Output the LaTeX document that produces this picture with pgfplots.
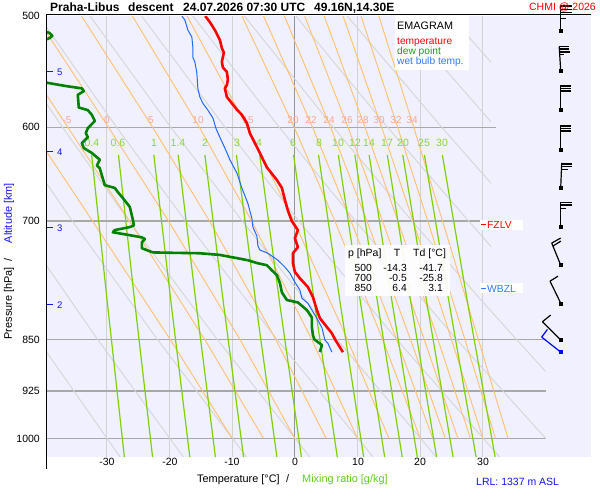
\documentclass[border=0pt]{standalone}
\usepackage{fontspec}
\setmainfont{Liberation Sans}
\usepackage{pgfplots}
\pgfplotsset{compat=1.18}
\definecolor{bgc}{RGB}{240,240,255}
\definecolor{tcol}{RGB}{255,0,0}
\definecolor{dcol}{RGB}{0,130,0}
\definecolor{wcol}{RGB}{30,105,250}
\definecolor{wtxt}{RGB}{50,120,255}
\definecolor{dtxt}{RGB}{30,150,30}
\definecolor{maw}{RGB}{255,192,115}
\definecolor{mal}{RGB}{255,165,140}
\definecolor{mrw}{RGB}{125,210,0}
\definecolor{mrl}{RGB}{140,215,50}
\definecolor{mrx}{RGB}{100,205,30}
\definecolor{dry}{RGB}{214,214,214}
\definecolor{iso}{RGB}{210,210,210}
\definecolor{isoz}{RGB}{150,150,150}
\definecolor{isob}{RGB}{168,168,168}
\definecolor{altb}{RGB}{20,20,235}
\newcommand{\fs}[1]{\fontsize{#1}{#1}\selectfont}
\begin{document}
\begin{tikzpicture}[x=1pt,y=1pt]
\path[use as bounding box] (0,0) rectangle (600,500);
\fill[white] (0,0) rectangle (600,500);
\fill[bgc] (46,43) rectangle (591,484);
% ---------------- guide lines ----------------
\begin{axis}[at={(46pt,43pt)}, anchor=south west, width=545pt, height=441pt,
  scale only axis, xmin=-39.7, xmax=47.23, ymin=500, ymax=1031, ymode=log, y dir=reverse, hide axis]
\addplot[draw=iso, line width=1pt] coordinates {(-30,500) (-30,1031)};
\addplot[draw=iso, line width=1pt] coordinates {(-20,500) (-20,1031)};
\addplot[draw=iso, line width=1pt] coordinates {(-10,500) (-10,1031)};
\addplot[draw=iso, line width=1pt] coordinates {(10,500) (10,1031)};
\addplot[draw=iso, line width=1pt] coordinates {(20,500) (20,1031)};
\addplot[draw=iso, line width=1pt] coordinates {(30,500) (30,1031)};
\addplot[draw=isoz, line width=1pt] coordinates {(0,500) (0,1031)};
\addplot[draw=isob, line width=1.2pt] coordinates {(-40,600) (32,600)};
\addplot[draw=isob, line width=1.2pt] coordinates {(-40,700) (30.5,700)};
\addplot[draw=isob, line width=1.2pt] coordinates {(-40,850) (40,850)};
\addplot[draw=isob, line width=1.2pt] coordinates {(-40,925) (40,925)};
\addplot[draw=isob, line width=1.2pt] coordinates {(-40,1000) (40,1000)};
% dry adiabats
\addplot[draw=dry, line width=0.9pt] coordinates {(-27.87,1031) (-41.03,850)};
\addplot[draw=dry, line width=0.9pt] coordinates {(-17.78,1031) (-31.48,850) (-44.53,700)};
\addplot[draw=dry, line width=0.9pt] coordinates {(-7.70,1031) (-21.94,850) (-35.50,700) (-45.73,600)};
\addplot[draw=dry, line width=0.9pt] coordinates {(2.39,1031) (-12.39,850) (-26.46,700) (-37.09,600) (-49.07,500)};
\addplot[draw=dry, line width=0.9pt] coordinates {(12.48,1031) (-2.85,850) (-17.43,700) (-28.45,600) (-40.87,500)};
\addplot[draw=dry, line width=0.9pt] coordinates {(22.57,1031) (6.70,850) (-8.40,700) (-19.81,600) (-32.67,500)};
\addplot[draw=dry, line width=0.9pt] coordinates {(32.66,1031) (16.24,850) (0.63,700) (-11.16,600) (-24.46,500)};
\addplot[draw=dry, line width=0.9pt] coordinates {(40,1000) (25.79,850) (9.66,700) (-2.52,600) (-16.26,500)};
\addplot[draw=dry, line width=0.9pt] coordinates {(40,896) (35.34,850) (30.04,800) (18.69,700) (6.12,600) (-8.05,500)};
\addplot[draw=dry, line width=0.9pt] coordinates {(31.3,730) (27.72,700) (14.76,600) (0.15,500)};
\addplot[draw=dry, line width=0.9pt] coordinates {(31.3,658) (23.41,600) (8.35,500)};
\addplot[draw=dry, line width=0.9pt] coordinates {(31.3,595) (16.55,500)};
\addplot[draw=dry, line width=0.9pt] coordinates {(31.3,539.5) (24.76,500)};
% moist adiabats
\addplot[draw=maw, line width=0.9pt] coordinates {(-10,1000) (-19.9,850) (-32.28,700) (-42.2,600)};
\addplot[draw=maw, line width=0.9pt] coordinates {(-5,1000) (-14.39,850) (-26.39,700) (-36.23,600) (-47.9,500)};
\addplot[draw=maw, line width=0.9pt] coordinates {(0,1000) (-8.76,850) (-20.15,700) (-29.74,600) (-41.34,500)};
\addplot[draw=maw, line width=0.9pt] coordinates {(5,1000) (-3.06,850) (-13.61,700) (-22.70,600) (-34.03,500)};
\addplot[draw=maw, line width=0.9pt] coordinates {(10,1000) (2.67,850) (-6.90,700) (-15.24,600) (-25.92,500)};
\addplot[draw=maw, line width=0.9pt] coordinates {(15,1000) (8.37,850) (-0.18,700) (-7.59,600) (-17.20,500)};
\addplot[draw=maw, line width=0.9pt] coordinates {(20,1000) (13.98,850) (6.38,700) (-0.12,600) (-8.45,500)};
\addplot[draw=maw, line width=0.9pt] coordinates {(22,1000) (16.21,850) (8.96,700) (2.81,600) (-5.00,500)};
\addplot[draw=maw, line width=0.9pt] coordinates {(24,1000) (18.43,850) (11.49,700) (5.68,600) (-1.67,500)};
\addplot[draw=maw, line width=0.9pt] coordinates {(26,1000) (20.63,850) (13.98,700) (8.47,600) (1.56,500)};
\addplot[draw=maw, line width=0.9pt] coordinates {(28,1000) (22.81,850) (16.43,700) (11.18,600) (4.68,500)};
\addplot[draw=maw, line width=0.9pt] coordinates {(30,1000) (24.97,850) (18.84,700) (13.83,600) (7.69,500)};
\addplot[draw=maw, line width=0.9pt] coordinates {(32,1000) (27.12,850) (21.20,700) (16.39,600) (10.55,500)};
\addplot[draw=maw, line width=0.9pt] coordinates {(34,1000) (29.26,850) (23.55,700) (18.95,600) (13.40,500)};
% mixing ratio lines
\addplot[draw=mrw, line width=1.2pt] coordinates {(-32.42,628) (-29.92,800) (-27.20,1031)};
\addplot[draw=mrw, line width=1.2pt] coordinates {(-28.14,628) (-25.54,800) (-22.70,1031)};
\addplot[draw=mrw, line width=1.2pt] coordinates {(-22.50,628) (-19.76,800) (-16.76,1031)};
\addplot[draw=mrw, line width=1.2pt] coordinates {(-18.62,628) (-15.78,800) (-12.68,1031)};
\addplot[draw=mrw, line width=1.2pt] coordinates {(-14.36,628) (-11.41,800) (-8.19,1031)};
\addplot[draw=mrw, line width=1.2pt] coordinates {(-9.33,628) (-6.24,800) (-2.87,1031)};
\addplot[draw=mrw, line width=1.2pt] coordinates {(-5.62,628) (-2.44,800) (1.04,1031)};
\addplot[draw=mrw, line width=1.2pt] coordinates {(-0.21,628) (3.12,800) (6.76,1031)};
\addplot[draw=mrw, line width=1.2pt] coordinates {(3.77,628) (7.21,800) (10.97,1031)};
\addplot[draw=mrw, line width=1.2pt] coordinates {(6.93,628) (10.46,800) (14.32,1031)};
\addplot[draw=mrw, line width=1.2pt] coordinates {(9.57,628) (13.18,800) (17.12,1031)};
\addplot[draw=mrw, line width=1.2pt] coordinates {(11.84,628) (15.51,800) (19.53,1031)};
\addplot[draw=mrw, line width=1.2pt] coordinates {(14.74,628) (18.50,800) (22.61,1031)};
\addplot[draw=mrw, line width=1.2pt] coordinates {(17.21,628) (21.04,800) (25.23,1031)};
\addplot[draw=mrw, line width=1.2pt] coordinates {(20.66,628) (24.59,800) (28.90,1031)};
\addplot[draw=mrw, line width=1.2pt] coordinates {(23.52,628) (27.54,800) (31.94,1031)};
\end{axis}
% labels of guide lines
\begin{scope}[every node/.style={inner sep=0pt, anchor=base}]
\foreach \xx/\tt in {67/-5,107/0,151/5,198/10,248/15,293/20,311/22,329/24,347/26,363/28,379/30,396/32,412/34}
  \node[text=mal, font=\fs{10}] at (\xx,376) {\tt};
\foreach \xx/\tt in {92/0.4,118/0.6,154/1,178/1.4,205/2,237/3,259/4,293/6,319/8,338/10,355/12,369/14,387/17,403/20,424/25,442/30}
  \node[text=mrl, font=\fs{10.5}] at (\xx,353) {\tt};
\end{scope}
% ---------------- data ----------------
\begin{axis}[at={(46pt,43pt)}, anchor=south west, width=545pt, height=441pt,
  scale only axis, xmin=-39.7, xmax=47.23, ymin=500, ymax=1031, ymode=log, y dir=reverse, hide axis]
\addplot[draw=wcol, line width=1pt, line join=round] coordinates {
(-18.03,500) (-17.55,503.3) (-17.07,511.6) (-16.44,517.5) (-16.28,526) (-16.28,535) (-15.96,539)
(-15.64,549) (-15.48,563) (-15.16,571) (-14.68,577) (-13.88,583.5) (-13.08,591) (-12.61,601)
(-11.97,610) (-11.17,621) (-10.69,628) (-10.37,633) (-9.25,647) (-8.46,663) (-7.50,680) (-6.86,697)
(-6.70,707) (-6.06,717.6) (-5.90,729) (-5.59,734) (-4.31,738) (-2.71,746.5) (-1.60,755) (-0.80,762.5)
(0.00,774) (0.80,784) (1.12,794.5) (2.07,801) (2.71,810) (3.67,823.6) (4.31,834) (4.79,851)
(5.27,855.5) (5.90,868)};
\addplot[draw=dcol, line width=2.6pt, line join=round] coordinates {
(-41.7,500) (-44,505) (-39.9,512.8) (-39.1,514.2) (-38.7,516.5) (-39.1,518.4) (-39.9,520)
(-44,528) (-44,550) (-39.41,558) (-36.38,561) (-33.99,563) (-33.67,565.6) (-34.63,569)
(-34.47,581) (-33.03,583.5) (-32.39,588) (-31.91,594) (-33.03,601) (-33.35,606) (-33.03,610)
(-33.99,616) (-33.67,621) (-32.39,626) (-31.12,633) (-31.59,639) (-31.12,642) (-30.32,660)
(-28.72,663) (-28.24,667.5) (-27.45,674) (-26.33,684) (-25.8,700) (-25.69,705) (-26.33,707)
(-28.72,710.5) (-29.04,713) (-26.65,716) (-24.41,719) (-23.93,721) (-24.41,725) (-24.41,732)
(-22.66,737) (-19.47,737.5) (-15.16,738) (-11.97,740) (-9.89,743) (-7.50,746.5) (-6.06,750)
(-4.47,752.6) (-3.67,759) (-2.87,765) (-2.39,775) (-2.07,787) (-1.28,797) (0.48,800) (1.91,810)
(2.71,820) (2.71,833) (2.87,844) (3.1,850) (4.31,858) (3.99,868)};
\addplot[draw=tcol, line width=2.6pt, line join=round] coordinates {
(-14.3,500) (-13.56,505) (-12.77,511.6) (-11.97,520) (-11.65,527) (-11.33,531) (-11.65,539)
(-11.49,544) (-10.85,548) (-10.69,555) (-10.85,560) (-11.17,563) (-10.85,571) (-10.05,577)
(-9.25,583) (-8.46,588) (-7.66,596) (-7.18,606) (-6.38,616) (-5.59,626) (-4.47,641) (-2.87,654.5)
(-2.07,663) (-1.60,676) (-1.12,688) (-0.5,700) (0.48,710.5) (0,720) (0.48,730.6) (-0.32,738)
(-0.32,750) (0,761) (0.80,769) (2.07,780) (2.87,793) (3.51,810) (3.99,821) (5.11,833) (5.90,841.5)
(6.4,850) (7.18,861) (7.66,868)};
% wind barb bases
\addplot[only marks, mark=square*, mark size=1.5pt, black] coordinates {
(42.4,512.5) (42.4,547) (42.4,583.5) (42.4,623) (42.4,663) (42.4,707) (42.4,752.5) (42.4,801) (42.4,851)};
\addplot[only marks, mark=square*, mark size=1.5pt, blue] coordinates {(42.4,868)};
\coordinate (b1) at (axis cs:42.4,512.5);
\coordinate (b2) at (axis cs:42.4,547);
\coordinate (b3) at (axis cs:42.4,583.5);
\coordinate (b4) at (axis cs:42.4,623);
\coordinate (b5) at (axis cs:42.4,663);
\coordinate (b6) at (axis cs:42.4,707);
\coordinate (b7) at (axis cs:42.4,752.5);
\coordinate (b8) at (axis cs:42.4,801);
\coordinate (b9) at (axis cs:42.4,851);
\coordinate (b10) at (axis cs:42.4,868);
\end{axis}
% ---------------- wind barbs ----------------
\newcommand{\bl}[5]{\draw ([shift={(#2,#3)}]#1) -- ++(#4,#5);}
\begin{scope}[line width=1.2pt, black]
\bl{b1}{0}{0}{0}{26} \bl{b1}{0}{25}{11}{0} \bl{b1}{0}{21.7}{11}{0} \bl{b1}{0}{18.7}{11}{0} \bl{b1}{0}{12.7}{5}{0}
\bl{b2}{0}{0}{-1.5}{24} \bl{b2}{-1.5}{24.3}{10}{0} \bl{b2}{-1.3}{21.7}{10}{0} \bl{b2}{-1.1}{18.7}{10}{0} \bl{b2}{-0.9}{16}{4}{0}
\bl{b3}{0}{0}{0}{25} \bl{b3}{0}{24}{10.5}{0} \bl{b3}{0}{21.5}{10.5}{0} \bl{b3}{0}{19}{10.5}{0}
\bl{b4}{0}{0}{0}{25} \bl{b4}{0}{24}{10.5}{0} \bl{b4}{0}{21.5}{10.5}{0} \bl{b4}{0}{19}{10.5}{0}
\bl{b5}{0}{0}{1}{25} \bl{b5}{1}{24}{10}{0} \bl{b5}{0.9}{21.3}{10}{0} \bl{b5}{0.8}{18.7}{6}{0}
\bl{b6}{0}{0}{0}{25} \bl{b6}{0}{24.7}{11}{0} \bl{b6}{0}{22}{11}{0} \bl{b6}{0}{18.7}{5}{0}
\bl{b7}{0}{0}{-9}{22} \bl{b7}{-9}{22}{9}{5} \bl{b7}{-7.8}{19}{8}{5}
\bl{b8}{0}{0}{-10.7}{22} \bl{b8}{-10.7}{22}{8}{5}
\bl{b9}{0}{0}{-18.3}{18.3} \bl{b9}{-18.3}{18.3}{8.3}{6.7}
\end{scope}
\begin{scope}[line width=1.2pt, blue]
\bl{b10}{0}{0}{-19}{15} \bl{b10}{-19}{15}{5.7}{7.7}
\end{scope}
% ---------------- frame ----------------
\draw[line width=1pt, black] (46,485) -- (591,485);
\draw[line width=1pt, black] (46,485) -- (46,31);
% ---------------- texts ----------------
\begin{scope}[every node/.style={inner sep=0pt}]
\node[anchor=base west, font=\bfseries\fs{12}] at (50,488.5) {Praha-Libus};
\node[anchor=base west, font=\bfseries\fs{12}] at (128,488.5) {descent};
\node[anchor=base west, font=\bfseries\fs{12}] at (183,488.5) {24.07.2026 07:30 UTC};
\node[anchor=base west, font=\bfseries\fs{12}] at (314,488.5) {49.16N,14.30E};
\node[anchor=base east, text=red, font=\fs{10.5}] at (596,489.5) {CHMI @ 2026};
% y tick labels
\foreach \yy/\tt in {480.2/500,369.1/600,275.2/700,156.8/850,105.3/925,57.8/1000}
  \node[anchor=base east, font=\fs{10.5}] at (40,\yy) {\tt};
% x tick labels
\foreach \xx/\tt in {107/-30,170/-20,232/-10,295/0,358/10,420/20,483/30}
  \node[anchor=base, font=\fs{10.5}] at (\xx,34) {\tt};
% axis titles
\node[anchor=base west, font=\fs{10.9}] at (197,17.3) {Temperature [°C]};
\node[anchor=base west, font=\fs{10.9}] at (286,17.3) {/};
\node[anchor=base west, text=mrx, font=\fs{10.9}] at (302,17.3) {Mixing ratio [g/kg]};
\node[anchor=base east, rotate=90, font=\fs{10.9}] at (12,233) {Pressure [hPa]};
\node[anchor=base, rotate=90, font=\fs{10.9}] at (12,240) {/};
\node[anchor=base east, rotate=90, text=altb, font=\fs{10.9}] at (12,317) {Altitude [km]};
% altitude marks
\foreach \yy/\tt in {428/5,348/4,272/3,195/2} {
  \draw[altb, line width=1pt] (47,\yy) -- (53,\yy);
  \node[anchor=base west, text=altb, font=\fs{9.5}] at (57,\yy-3.3) {\tt};
}
% legend box
\fill[white] (395,430) rectangle (469,484);
\node[anchor=base west, font=\fs{10.8}] at (397,470) {EMAGRAM};
\node[anchor=base west, text=red, font=\fs{10.2}] at (397,455) {temperature};
\node[anchor=base west, text=dtxt, font=\fs{10.2}] at (397,445.7) {dew point};
\node[anchor=base west, text=wtxt, font=\fs{10.2}] at (397,435.7) {wet bulb temp.};
% table
\fill[white, opacity=0.92] (345,204) rectangle (450,255);
\node[anchor=base west, font=\fs{10.5}] at (348,243) {p [hPa]};
\node[anchor=base, font=\fs{10.5}] at (397,243) {T};
\node[anchor=base west, font=\fs{10.5}] at (413,243) {Td [°C]};
\foreach \yy/\pa/\ta/\da in {228/500/-14.3/-41.7,218/700/-0.5/-25.8,208/850/6.4/3.1} {
  \node[anchor=base east, font=\fs{10.3}] at (372,\yy) {\pa};
  \node[anchor=base east, font=\fs{10.3}] at (407,\yy) {\ta};
  \node[anchor=base east, font=\fs{10.3}] at (443,\yy) {\da};
}
% levels
\fill[white] (480,270) rectangle (523,280);
\draw[red, line width=1pt] (481,275) -- (486,275);
\node[anchor=base west, text=red, font=\fs{10.3}] at (487,271) {FZLV};
\fill[white] (480,206.5) rectangle (523,216.5);
\draw[wtxt, line width=1pt] (481,211.5) -- (486,211.5);
\node[anchor=base west, text=wtxt, font=\fs{10.3}] at (487,207.7) {WBZL};
\node[anchor=base west, text=altb, font=\fs{10.5}] at (476,14.2) {LRL: 1337 m ASL};
\end{scope}
\end{tikzpicture}
\end{document}
